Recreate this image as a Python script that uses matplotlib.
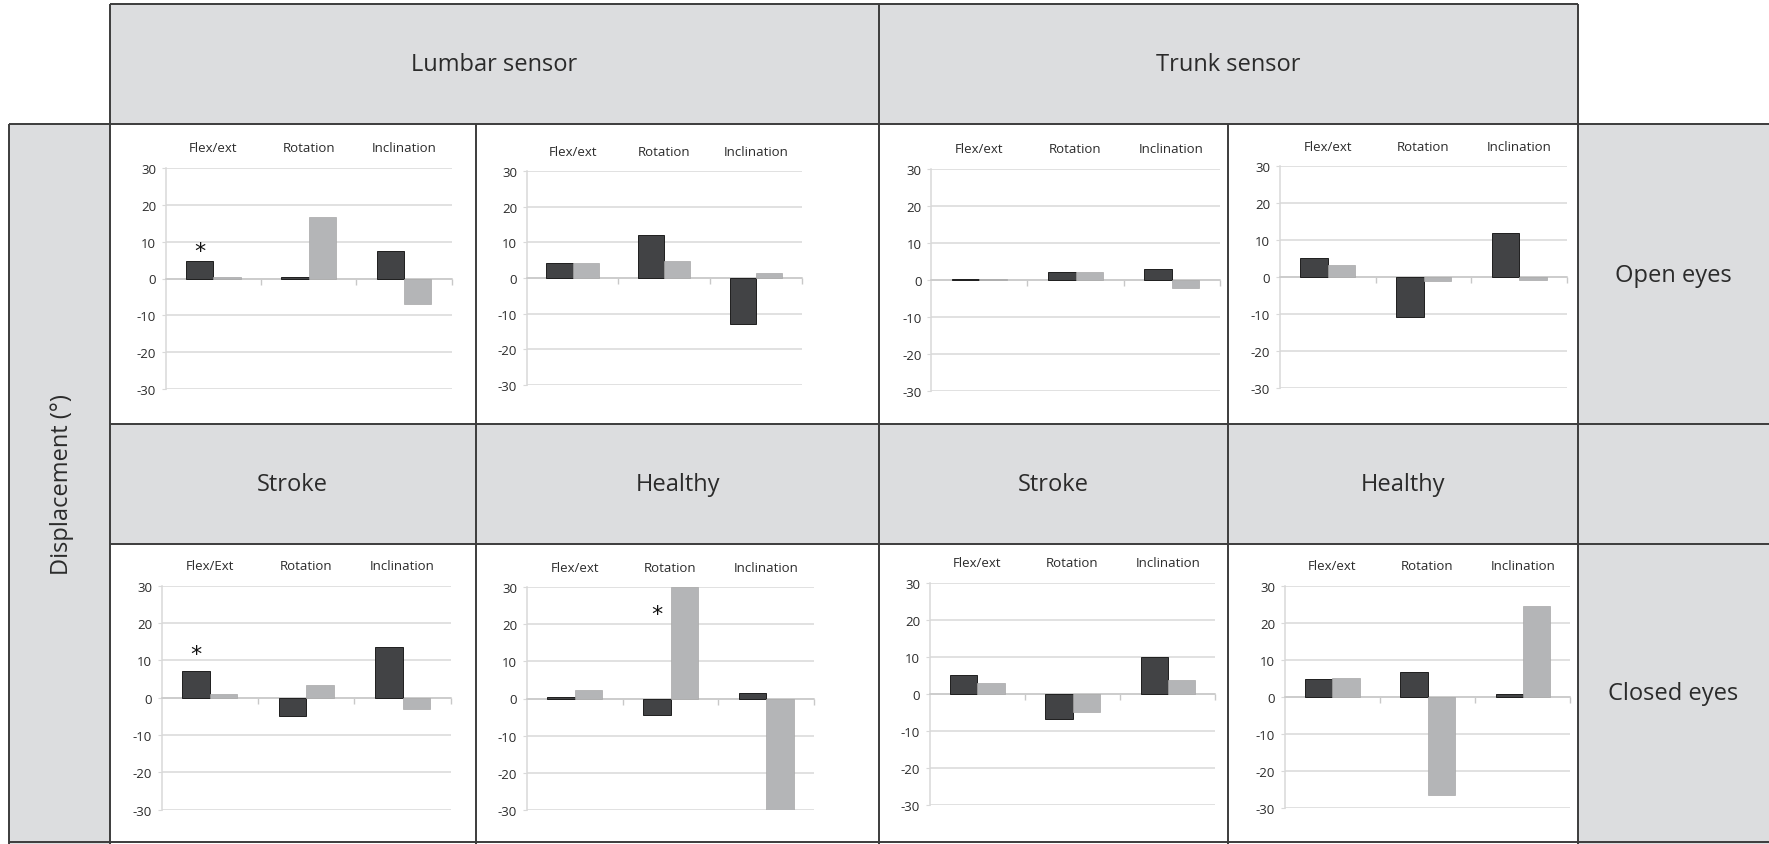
import matplotlib
matplotlib.use("Agg")
import matplotlib.pyplot as plt
from matplotlib.patches import Rectangle
import matplotlib.transforms as mtransforms

plt.rcParams["font.family"] = ["Open Sans", "DejaVu Sans"]
plt.rcParams["axes.unicode_minus"] = False

W, H = 1769, 845

categories = ["Flex/ext", "Rotation", "Inclination"]
categories_alt = ["Flex/Ext", "Rotation", "Inclination"]

# dark / light bars for each panel (degrees)
lumbar_stroke_open_dark = [4.8, 0.3, 7.4]
lumbar_stroke_open_light = [0.3, 16.6, -7.0]
lumbar_healthy_open_dark = [4.1, 12.2, -12.9]
lumbar_healthy_open_light = [4.1, 4.7, 1.5]
trunk_stroke_open_dark = [0.4, 2.3, 2.9]
trunk_stroke_open_light = [0.2, 2.1, -2.2]
trunk_healthy_open_dark = [5.1, -10.9, 11.9]
trunk_healthy_open_light = [3.2, -1.0, -0.8]

lumbar_stroke_closed_dark = [7.1, -4.9, 13.6]
lumbar_stroke_closed_light = [0.9, 3.5, -2.9]
lumbar_healthy_closed_dark = [0.4, -4.4, 1.4]
lumbar_healthy_closed_light = [2.4, 30.0, -30.0]
trunk_stroke_closed_dark = [5.0, -6.9, 9.9]
trunk_stroke_closed_light = [2.9, -4.9, 3.6]
trunk_healthy_closed_dark = [4.9, 6.6, 0.7]
trunk_healthy_closed_light = [5.1, -26.5, 24.4]

# significance marks: (category index, y value)
star_lumbar_stroke_open = [(0, 7.6)]
star_lumbar_stroke_closed = [(0, 11.6)]
star_lumbar_healthy_closed = [(1, 22.8)]

GRAY = "#dcdddf"
BORDER = "#3c3c3c"
DARK = "#424345"
LIGHT = "#b4b5b7"
GRID = "#d9d9d9"
TXT = "#2b2b2b"

fig = plt.figure(figsize=(W / 100, H / 100), dpi=100)
bg = fig.add_axes([0, 0, 1, 1])
bg.set_xlim(0, W)
bg.set_ylim(H, 0)
bg.axis("off")

xL, x1, x2, x3, xR = 109.5, 476, 879, 1228, 1578
yT, yA, yB, yC, yD = 4.5, 124.7, 425, 545, 843
xLL = 9


def rect(x0, y0, x1_, y1_, color):
    bg.add_patch(Rectangle((x0, y0), x1_ - x0, y1_ - y0, facecolor=color, edgecolor="none"))


def line(xs, ys):
    bg.plot(xs, ys, color=BORDER, lw=1.4, solid_capstyle="butt")


rect(xL, yT, xR, yA, GRAY)
rect(xLL, yA, xL, H, GRAY)
rect(xR, yA, W, H, GRAY)
rect(xL, yB, xR, yC, GRAY)

line([xL, xR], [yT, yT])
line([xLL, W], [yA, yA])
line([xL, W], [yB, yB])
line([xL, W], [yC, yC])
line([xLL, W], [yD, yD])
line([xLL, xLL], [yA, H])
for xv in (xL, xR):
    line([xv, xv], [yT, H])
line([x2, x2], [yT, H])
for xv in (x1, x3):
    line([xv, xv], [yA, H])

hfs = 17
bg.text((xL + x2) / 2, 65, "Lumbar sensor", ha="center", va="center", fontsize=hfs, color=TXT)
bg.text((x2 + xR) / 2, 65, "Trunk sensor", ha="center", va="center", fontsize=hfs, color=TXT)
for (a, b), lab in zip([(xL, x1), (x1, x2), (x2, x3), (x3, xR)],
                       ["Stroke", "Healthy", "Stroke", "Healthy"]):
    bg.text((a + b) / 2, (yB + yC) / 2, lab, ha="center", va="center", fontsize=hfs, color=TXT)
bg.text(1673, 276, "Open eyes", ha="center", va="center", fontsize=hfs, color=TXT)
bg.text(1673, 694, "Closed eyes", ha="center", va="center", fontsize=hfs, color=TXT)
bg.text(62, 485, "Displacement (\u00b0)", ha="center", va="center", rotation=90,
        fontsize=hfs, color=TXT)

panels = [
    # (left, right, top, bottom) in pixels, labels, dark, light, stars
    ((165.7, 451.7, 169.0, 390.0), categories, lumbar_stroke_open_dark, lumbar_stroke_open_light, star_lumbar_stroke_open),
    ((526.7, 801.7, 172.3, 385.7), categories, lumbar_healthy_open_dark, lumbar_healthy_open_light, []),
    ((931.3, 1219.7, 170.0, 392.3), categories, trunk_stroke_open_dark, trunk_stroke_open_light, []),
    ((1279.7, 1567.3, 167.3, 389.0), categories, trunk_healthy_open_dark, trunk_healthy_open_light, []),
    ((161.7, 450.7, 586.7, 810.7), categories_alt, lumbar_stroke_closed_dark, lumbar_stroke_closed_light, star_lumbar_stroke_closed),
    ((526.7, 814.3, 588.3, 810.7), categories, lumbar_healthy_closed_dark, lumbar_healthy_closed_light, star_lumbar_healthy_closed),
    ((929.7, 1215.3, 583.7, 805.7), categories, trunk_stroke_closed_dark, trunk_stroke_closed_light, []),
    ((1284.7, 1570.3, 586.7, 809.0), categories, trunk_healthy_closed_dark, trunk_healthy_closed_light, []),
]

bw = 1 / 3.5
for (l, r, t, b), labs, dark, light, stars in panels:
    ax = fig.add_axes([l / W, 1 - b / H, (r - l) / W, (b - t) / H])
    ax.patch.set_alpha(0)
    xs = list(range(len(labs)))
    ax.bar([x - bw / 2 for x in xs], dark, width=bw, color=DARK, edgecolor="#1e1e1e", lw=0.7, zorder=3)
    ax.bar([x + bw / 2 for x in xs], light, width=bw, color=LIGHT, edgecolor="#a8a8a8", lw=0.5, zorder=3)
    ax.set_xlim(-0.5, len(labs) - 0.5)
    ax.set_ylim(-30, 30)
    ax.set_yticks(range(-30, 31, 10))
    ax.yaxis.grid(True, color=GRID, lw=1.1)
    ax.set_axisbelow(True)
    for s in ("top", "right"):
        ax.spines[s].set_visible(False)
    ax.spines["left"].set_color(GRID)
    ax.spines["left"].set_linewidth(1.1)
    ax.spines["bottom"].set_position(("data", 0))
    ax.spines["bottom"].set_color("#c8c8c8")
    ax.spines["bottom"].set_linewidth(1.1)
    ax.set_xticks([x + 0.5 for x in xs])
    ax.set_xticklabels([])
    ax.tick_params(axis="x", length=4, color="#c8c8c8", width=1)
    ax.tick_params(axis="y", length=3, color=GRID, labelsize=9.5, labelcolor=TXT, pad=4)
    trans = mtransforms.blended_transform_factory(ax.transData, ax.transAxes)
    for x, lab in zip(xs, labs):
        ax.annotate(lab, (x, 1), xycoords=trans, xytext=(0, 14.5), textcoords="offset points",
                    ha="center", va="center", fontsize=9.5, color=TXT)
    for ci, yv in stars:
        ax.text(ci - bw / 2, yv, "*", ha="center", va="center", fontsize=16, color="#111111",
                family="DejaVu Sans", zorder=4)

fig.savefig("out.png", dpi=100)
